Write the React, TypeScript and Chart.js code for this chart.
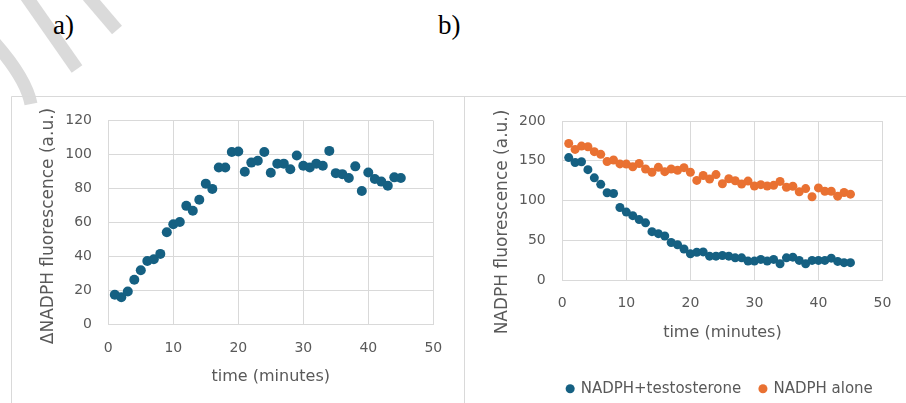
import React, { useEffect, useRef } from "react";
import { Chart, registerables } from "chart.js";

Chart.register(...registerables);

// ---------- data ----------
const timeMinutes = [
  1, 2, 3, 4, 5, 6, 7, 8, 9, 10, 11, 12, 13, 14, 15, 16, 17, 18, 19, 20, 21, 22, 23,
  24, 25, 26, 27, 28, 29, 30, 31, 32, 33, 34, 35, 36, 37, 38, 39, 40, 41, 42, 43, 44, 45,
];

const deltaNadph = [
  17.4, 16, 19.3, 26.3, 31.9, 37.3, 38.3, 41.5, 54.3, 59, 60.3, 69.8, 66.9, 73.4, 82.9,
  79.8, 92.4, 92.4, 101.6, 101.8, 89.9, 95.3, 96.4, 101.6, 89.3, 94.7, 94.7, 91.4, 99.5,
  93.5, 92.4, 94.7, 93.5, 102.2, 89.1, 88.5, 86.2, 93.1, 78.6, 89.5, 85.6, 84.1, 81.7,
  86.6, 86.2,
];

const nadphTestosterone = [
  154, 147.8, 148.7, 138.8, 128.5, 120.3, 109.7, 108.8, 91.2, 85.4, 80.9, 76, 71.9, 60.8,
  58.3, 55.4, 47.2, 44.4, 39, 32.9, 34.9, 35.3, 30, 30, 30.8, 30, 27.9, 27.9, 23.8, 23.8,
  25.9, 23.8, 25.9, 20.5, 27.9, 28.7, 24.6, 20.5, 24.6, 24.6, 24.6, 27.5, 23.4, 21.8, 21.8,
];

const nadphAlone = [
  171.7, 164.3, 168.4, 167.6, 161.4, 158.1, 149, 151, 146, 145.8, 142.5, 146.6, 139.6,
  135.5, 141.7, 136.3, 139.6, 138, 141.3, 135.5, 125.3, 131.4, 126.9, 132.6, 121.1, 127.3,
  124.8, 120.7, 124.4, 118.3, 119.9, 118.3, 119.1, 124, 116.6, 117.9, 110.9, 115, 104.7,
  115.8, 111.7, 111.7, 105.5, 110, 108,
];

const seriesNames = ["NADPH+testosterone", "NADPH alone"];
const panelLabels = ["a)", "b)"];
const xTitle = "time (minutes)";
const yTitleA = "\u0394NADPH fluorescence (a.u.)";
const yTitleB = "NADPH fluorescence (a.u.)";

// ---------- styles ----------
const FONT = "'DejaVu Sans', sans-serif";
const TEXT = "#595959";
const GRID = "#d9d9d9";
const BLUE = "#156082";
const ORANGE = "#E97132";

const toPoints = (xs: number[], ys: number[]) => xs.map((x, i) => ({ x, y: ys[i] }));

function makeScales(opts: {
  yMax: number;
  yStep: number;
  yTitle: string;
  yWidth: number;
  yTickPad: number;
  yTitlePad: number;
  xHeight: number;
  xTickPad: number;
  xTitlePad: number;
}) {
  return {
    x: {
      type: "linear" as const,
      min: 0,
      max: 50,
      ticks: { stepSize: 10, padding: opts.xTickPad, color: TEXT, font: { family: FONT, size: 14 } },
      grid: { color: GRID, drawTicks: false },
      border: { color: GRID },
      title: {
        display: true,
        text: xTitle,
        color: TEXT,
        font: { family: FONT, size: 16 },
        padding: { top: 0, bottom: opts.xTitlePad },
      },
      afterFit: (s: any) => {
        s.height = opts.xHeight;
      },
    },
    y: {
      type: "linear" as const,
      min: 0,
      max: opts.yMax,
      ticks: { stepSize: opts.yStep, padding: opts.yTickPad, color: TEXT, font: { family: FONT, size: 14 } },
      grid: { color: GRID, drawTicks: false },
      border: { display: false },
      title: {
        display: true,
        text: opts.yTitle,
        color: TEXT,
        font: { family: FONT, size: 17 },
        padding: { top: opts.yTitlePad, bottom: 0 },
      },
      afterFit: (s: any) => {
        s.width = opts.yWidth;
      },
    },
  };
}

// centres the legend row on a chosen x (canvas px)
const legendShift = {
  id: "legendShift",
  afterLayout(chart: any, _args: any, opts: any) {
    const lg = chart.legend;
    if (!lg || opts.centerX == null) return;
    const w = lg.right - lg.left;
    lg.left = opts.centerX - w / 2;
    lg.right = opts.centerX + w / 2;
    if (typeof lg.adjustHitBoxes === "function") lg.adjustHitBoxes();
  },
};

// moves the vertical axis title down (Excel centres it on the whole chart height)
const yTitleShift = {
  id: "yTitleShift",
  afterLayout(chart: any, _args: any, opts: any) {
    const s = chart.scales.y;
    if (!s || !opts.dy) return;
    s.top += opts.dy;
    s.bottom += opts.dy;
  },
};

function ChartA() {
  const ref = useRef<HTMLCanvasElement | null>(null);
  useEffect(() => {
    if (!ref.current) return;
    const chart = new Chart(ref.current, {
      type: "scatter",
      plugins: [yTitleShift],
      data: {
        datasets: [
          {
            label: seriesNames[0],
            data: toPoints(timeMinutes, deltaNadph),
            backgroundColor: BLUE,
            borderColor: BLUE,
            borderWidth: 0,
            pointRadius: 5,
            clip: false,
          },
        ],
      },
      options: {
        responsive: false,
        animation: false,
        layout: { padding: { left: 0, top: 21.3, right: 30.7, bottom: 31.7 } },
        plugins: {
          legend: { display: false },
          tooltip: { enabled: false },
          yTitleShift: { dy: 3.5 },
        },
        scales: makeScales({
          yMax: 120,
          yStep: 20,
          yTitle: yTitleA,
          yWidth: 97.3,
          yTickPad: 16.3,
          yTitlePad: 27.8,
          xHeight: 70,
          xTickPad: 15.3,
          xTitlePad: 7.7,
        }),
      } as any,
    });
    return () => chart.destroy();
  }, []);
  return (
    <canvas
      ref={ref}
      width={453}
      height={330}
      style={{ position: "absolute", left: 11, top: 96, width: 453, height: 330 }}
    />
  );
}

function ChartB() {
  const ref = useRef<HTMLCanvasElement | null>(null);
  useEffect(() => {
    if (!ref.current) return;
    const chart = new Chart(ref.current, {
      type: "scatter",
      plugins: [legendShift, yTitleShift],
      data: {
        datasets: [
          {
            label: seriesNames[0],
            data: toPoints(timeMinutes, nadphTestosterone),
            backgroundColor: BLUE,
            borderColor: BLUE,
            borderWidth: 0,
            pointRadius: 4.5,
            clip: false,
          },
          {
            label: seriesNames[1],
            data: toPoints(timeMinutes, nadphAlone),
            backgroundColor: ORANGE,
            borderColor: ORANGE,
            borderWidth: 0,
            pointRadius: 4.5,
            clip: false,
          },
        ],
      },
      options: {
        responsive: false,
        animation: false,
        layout: { padding: { left: 0, top: 21.7, right: 18.7, bottom: 19.8 } },
        plugins: {
          tooltip: { enabled: false },
          legendShift: { centerX: 256 },
          yTitleShift: { dy: 21.5 },
          legend: {
            display: true,
            position: "bottom",
            fullSize: true,
            labels: {
              usePointStyle: true,
              pointStyle: "circle",
              boxWidth: 6,
              boxHeight: 6.4,
              padding: 18.7,
              color: TEXT,
              font: { family: FONT, size: 15 },
            },
          },
        },
        scales: makeScales({
          yMax: 200,
          yStep: 50,
          yTitle: yTitleB,
          yWidth: 98.3,
          yTickPad: 16.6,
          yTitlePad: 28.8,
          xHeight: 82.5,
          xTickPad: 14.6,
          xTitlePad: 20.4,
        }),
      } as any,
    });
    return () => chart.destroy();
  }, []);
  return (
    <canvas
      ref={ref}
      width={442}
      height={330}
      style={{ position: "absolute", left: 464, top: 96, width: 442, height: 330 }}
    />
  );
}

export default function App() {
  return (
    <div
      style={{
        position: "absolute",
        left: 0,
        top: 0,
        width: 906,
        height: 403,
        overflow: "hidden",
        background: "#ffffff",
      }}
    >
      <svg width={906} height={403} style={{ position: "absolute", left: 0, top: 0 }}>
        {/* faint watermark strokes */}
        <g stroke="#dadada" fill="none" strokeWidth={13}>
          <line x1={26} y1={-4} x2={77} y2={69} />
          <line x1={88} y1={-4} x2={117} y2={30} />
          <path d="M -6 42 Q 26 78 31 104" />
        </g>
        {/* panel frames */}
        <g stroke={GRID} strokeWidth={1}>
          <line x1={11.5} y1={96.5} x2={906} y2={96.5} />
          <line x1={11.5} y1={96.5} x2={11.5} y2={403} />
          <line x1={464.5} y1={96.5} x2={464.5} y2={403} />
        </g>
        <text x={53} y={34} fontFamily="'Liberation Serif', serif" fontSize={27} fill="#000">
          {panelLabels[0]}
        </text>
        <text x={438} y={34} fontFamily="'Liberation Serif', serif" fontSize={27} fill="#000">
          {panelLabels[1]}
        </text>
      </svg>
      <ChartA />
      <ChartB />
    </div>
  );
}
